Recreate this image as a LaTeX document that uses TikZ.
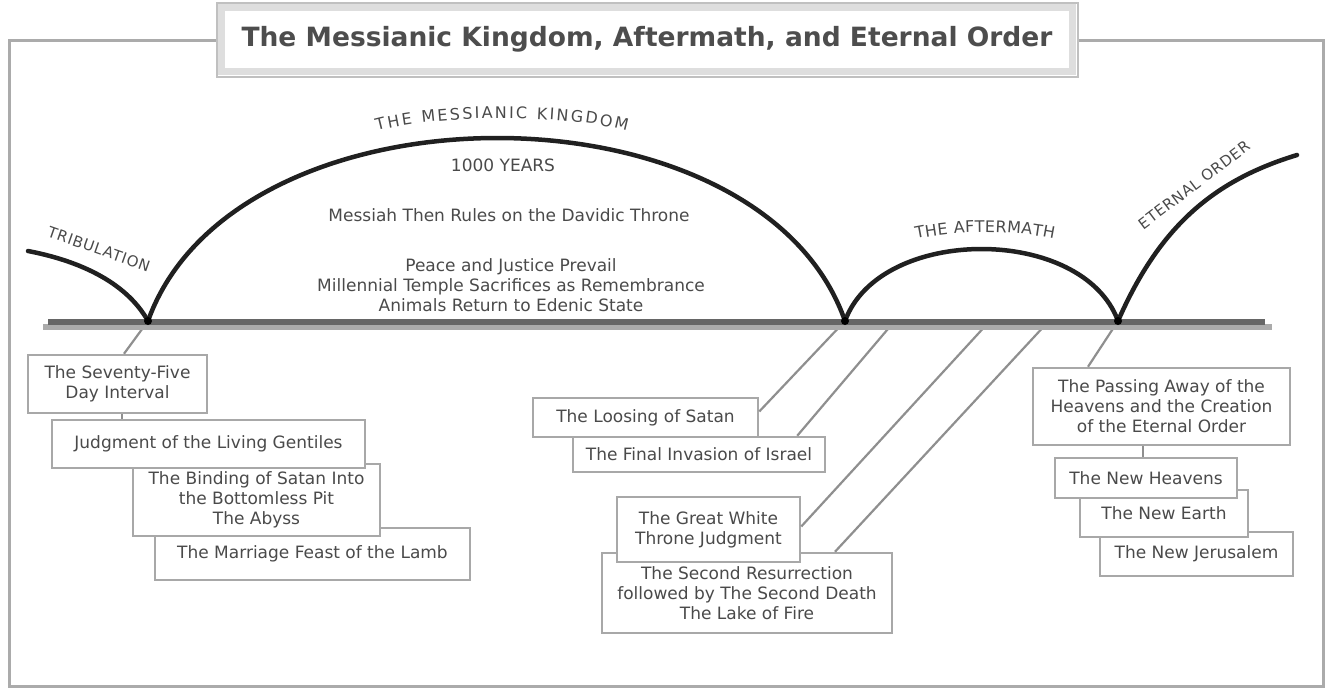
\documentclass[tikz,border=0pt]{standalone}
\usepackage{fontspec}
\setmainfont{DejaVu Sans}
\usetikzlibrary{calc,decorations.text}
\definecolor{framegray}{HTML}{ABABAB}
\definecolor{boxgray}{HTML}{A8A8A8}
\definecolor{txtgray}{HTML}{4A4A4A}
\definecolor{ttlgray}{HTML}{4D4D4D}
\definecolor{linkgray}{HTML}{8F8F8F}
\definecolor{arcblack}{HTML}{202020}
\definecolor{tldark}{HTML}{666666}
\definecolor{tllight}{HTML}{ABABAB}
\definecolor{bandgray}{HTML}{DEDEDE}
\definecolor{edgegray}{HTML}{C0C0C0}
\newcommand\bxfont{\fontsize{17}{20}\selectfont}
\newcommand\capfont{\fontsize{16}{16}\selectfont}
\newcommand\smcapfont{\fontsize{15}{15}\selectfont\addfontfeature{LetterSpace=5}}
\newcommand\ttlfont{\fontsize{26.5}{30}\selectfont\bfseries}
\begin{document}
\begin{tikzpicture}[x=1pt,y=-1pt,
 frame/.style={draw=framegray,line width=3pt},
 box/.style={draw=boxgray,line width=2.5pt,fill=white,align=center,font=\bxfont,text=txtgray,inner sep=0pt},
 lbl/.style={align=center,font=\bxfont,text=txtgray,inner sep=0pt},
 tilt/.style={font=\smcapfont,text=txtgray,inner sep=0pt},
 link/.style={draw=linkgray,line width=2.2pt},
 arcline/.style={draw=arcblack,line width=4.5pt,line cap=round},
 curvelbl/.style={decorate,decoration={text along path,text align={fit to path},text color=txtgray}}
]
\useasboundingbox (0,0) rectangle (1330,691);
\draw[frame] (9,40) rectangle (1323,686);
% title
\draw[draw=edgegray,line width=2pt,fill=white] (216.5,2.5) rectangle (1077.5,76.5);
\node[draw=bandgray,line width=7pt,fill=white,minimum width=851pt,minimum height=64pt,inner sep=0pt,font=\ttlfont,text=ttlgray] (title) at (647,39.5) {The Messianic Kingdom, Aftermath, and Eternal Order};

% coordinates
\coordinate (J1) at (148,321);
\coordinate (J2) at (845,321);
\coordinate (J3) at (1118,321);
\coordinate (T2) at (893,323);
\coordinate (T3) at (988,323);
\coordinate (T4) at (1047,323);
\coordinate (L0) at (28,251);
\coordinate (E0) at (1297,155);
\coordinate (TLa) at (43,327);
\coordinate (TLb) at (1272,327);
\coordinate (TDa) at (48,321.5);
\coordinate (TDb) at (1265,321.5);

% boxes (back to front)
\node[box,minimum width=315pt,minimum height=52pt] (B4) at (312.5,554) {The Marriage Feast of the Lamb};
\node[box,minimum width=247pt,minimum height=72pt] (B3) at (256.5,500) {The Binding of Satan Into\\the Bottomless Pit\\The Abyss};
\node[box,minimum width=313pt,minimum height=48pt] (B2) at (208.5,444) {Judgment of the Living Gentiles};
\node[box,minimum width=179pt,minimum height=58pt] (B1) at (117.5,384) {The Seventy-Five\\Day Interval};

\node[box,minimum width=225pt,minimum height=39pt] (M1) at (645.5,417.5) {The Loosing of Satan};
\node[box,minimum width=252pt,minimum height=35pt] (M2) at (699,454.5) {The Final Invasion of Israel};
\node[box,minimum width=290pt,minimum height=80pt] (M4) at (747,593) {The Second Resurrection\\followed by The Second Death\\The Lake of Fire};
\node[box,minimum width=183pt,minimum height=65pt] (M3) at (708.5,529.5) {The Great White\\Throne Judgment};

\node[box,minimum width=193pt,minimum height=44pt] (R4) at (1196.5,554) {The New Jerusalem};
\node[box,minimum width=168pt,minimum height=47pt] (R3) at (1164,513.5) {The New Earth};
\node[box,minimum width=182pt,minimum height=40pt] (R2) at (1146,478) {The New Heavens};
\node[box,minimum width=257pt,minimum height=77pt] (R1) at (1161.5,406.5) {The Passing Away of the\\Heavens and the Creation\\of the Eternal Order};

% connectors
\coordinate (b1a) at ($(B1.north)+(6.5,0)$);
\draw[link] (J1) -- (b1a);
\coordinate (b1b) at ($(B1.south)+(4.5,0)$);
\draw[link] (b1b) -- (b1b |- B2.north);
\draw[link] (J2) -- ($(M1.east)+(0,-6)$);
\draw[link] (T2) -- ($(M2.north east)+(-29,0)$);
\draw[link] (T3) -- ($(M3.east)+(0,-3)$);
\draw[link] (T4) -- ($(M4.north)+(88,0)$);
\draw[link] (J3) -- ($(R1.north)+(-73.5,0)$);
\coordinate (r1b) at ($(R1.south)+(-18.5,0)$);
\draw[link] (r1b) -- (r1b |- R2.north);

% timeline
\draw[draw=tllight,line width=6pt] (TLa) -- (TLb);
\draw[draw=tldark,line width=6pt] (TDa) -- (TDb);

% arcs
\draw[arcline] (L0) .. controls (75,260) and (125,280) .. (J1);
\draw[arcline] (J1) .. controls (235,77) and (760,77) .. (J2);
\draw[arcline] (J2) .. controls (880,225) and (1083,225) .. (J3);
\draw[arcline] (J3) .. controls (1160,225) and (1215,180) .. (E0);
\fill[black] (J1) circle (4);
\fill[black] (J2) circle (4);
\fill[black] (J3) circle (4);

% labels
\path[curvelbl,decoration={text={|\capfont|THE MESSIANIC KINGDOM}}] (377,131) .. controls (440,114) and (565,114) .. (627,131);
\path[curvelbl,decoration={text={|\capfont|THE AFTERMATH}}] (916,239) .. controls (960,230) and (1010,230) .. (1054,239);
\node[tilt,rotate=-19.3] (trib) at (99,249) {TRIBULATION};
\node[tilt,rotate=37] (eter) at (1194,185) {ETERNAL ORDER};
\node[lbl] (yrs) at (503,165) {1000 YEARS};
\node[lbl] (rule) at (509,215) {Messiah Then Rules on the Davidic Throne};
\node[lbl] (peace) at (511,285) {Peace and Justice Prevail\\Millennial Temple Sacrifices as Remembrance\\Animals Return to Edenic State};
\end{tikzpicture}
\end{document}
